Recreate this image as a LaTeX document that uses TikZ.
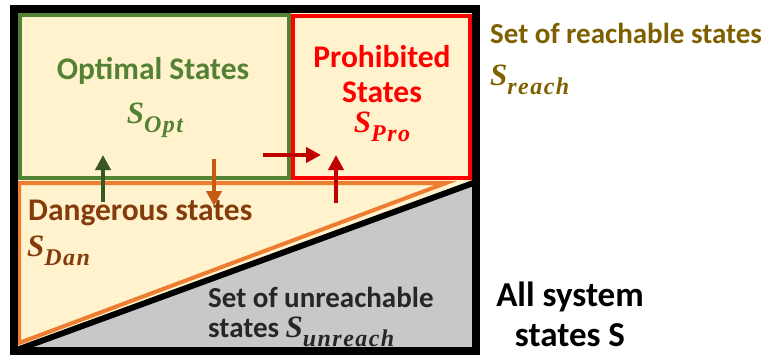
\documentclass[tikz,border=0pt]{standalone}
\usepackage{fontspec}
\setmainfont{Carlito}
\newfontfamily\setfont{Liberation Serif}
\usetikzlibrary{arrows.meta}

\definecolor{cream}{HTML}{FFF2CC}
\definecolor{unreachgray}{HTML}{C8C8C8}
\definecolor{optgreen}{HTML}{548235}
\definecolor{optarrow}{HTML}{385723}
\definecolor{danorange}{HTML}{ED7D31}
\definecolor{danarrow}{HTML}{C55A11}
\definecolor{dantext}{HTML}{843C0C}
\definecolor{proarrow}{HTML}{C00000}
\definecolor{reachgold}{HTML}{7F6000}
\definecolor{darktext}{HTML}{262626}

\newcommand{\stateset}[1]{{\setfont\bfseries\itshape\fontsize{31}{35}\selectfont S\raisebox{-0.3em}{\fontsize{24}{24}\selectfont\addfontfeature{LetterSpace=6} #1}}}

\tikzset{
  outtext/.style={inner sep=0pt,font=\fontsize{29}{35}\selectfont\bfseries},
  areatext/.style={inner sep=0pt,font=\fontsize{31.5}{35}\selectfont\bfseries},
  systext/.style={inner sep=0pt,font=\fontsize{35}{40}\selectfont\bfseries},
}

\begin{document}
\begin{tikzpicture}[x=1pt,y=-1pt]

      \useasboundingbox (0,0) rectangle (763,356);

      % areas
      \fill[cream] (14,9) rectangle (476,351);
      \fill[unreachgray] (14,351) -- (476,351) -- (476,182) -- cycle;

      \begin{scope}[line width=4pt]
        \draw[danorange] (19,183) -- (446,183) -- (19,343) -- cycle;
        \draw[optgreen] (20,15) rectangle (289,178);
        \draw[red] (293,16) rectangle (470,178);
      \end{scope}

      \draw[line width=6pt] (14,351) -- (476,182);
      \draw[line width=8pt] (14,9) rectangle (476,351);

      % labels
      \begin{scope}[every node/.style={areatext}]
        \node[optgreen] (opt)    at (153,71)  {Optimal States};
        \node[optgreen] (sopt)   at (155,120) {\stateset{Opt}};
        \node[red,align=center] (pro) at (382,74) {Prohibited\\States};
        \node[red] (spro)        at (382,127) {\stateset{Pro}};
        \node[dantext,anchor=west] (dan)  at (28,213)  {Dangerous states};
        \node[dantext,anchor=west] (sdan) at (27,251)  {\stateset{Dan}};
      \end{scope}

      \begin{scope}[every node/.style={outtext}]
        \node[darktext,anchor=west] (unr)  at (208,297) {Set of unreachable};
        \node[darktext,anchor=west] (sunr) at (208,332) {states \stateset{unreach}};
        \node[reachgold,anchor=west] (rea)  at (490,33) {Set of reachable states};
        \node[reachgold,anchor=west] (srea) at (490,80) {\stateset{reach}};
      \end{scope}

      \node[systext,align=center] (all) at (570,314) {All system\\states S};

      % transitions
      \coordinate (g1) at (103,202);
      \coordinate (g2) at (103,155);
      \coordinate (o1) at (214,159);
      \coordinate (o2) at (214,206);
      \coordinate (r1) at (263,155);
      \coordinate (r2) at (321,155);
      \coordinate (r3) at (336,203);
      \coordinate (r4) at (336,155);

      \begin{scope}[line width=4.5pt,-{Triangle[length=15pt,width=15pt]}]
        \draw[optarrow] (g1) -- (g2);
        \draw[danarrow] (o1) -- (o2);
        \draw[proarrow] (r1) -- (r2);
        \draw[proarrow] (r3) -- (r4);
      \end{scope}

\end{tikzpicture}
\end{document}
